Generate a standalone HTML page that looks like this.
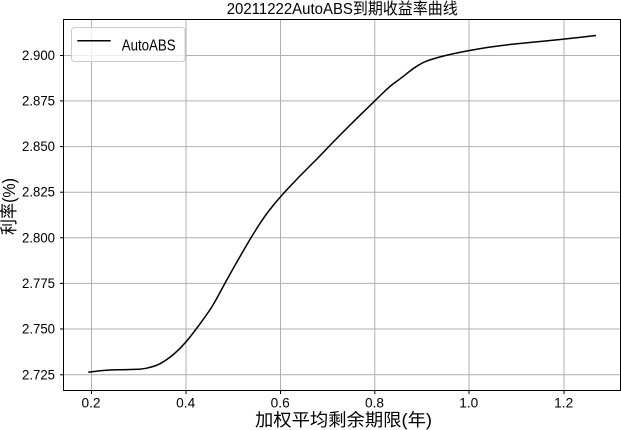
<!DOCTYPE html>
<html><head><meta charset="utf-8"><style>
html,body{margin:0;padding:0;background:#fff;}
svg{display:block;}
text{font-family:"Liberation Sans","Noto Sans CJK SC",sans-serif;fill:#000;}
</style></head><body>
<svg width="621" height="430" viewBox="0 0 621 430" xmlns="http://www.w3.org/2000/svg">
<rect x="0" y="0" width="621" height="430" fill="#fff"/>
<g stroke="#b0b0b0" stroke-width="1" fill="none">
<line x1="91.5" y1="19.5" x2="91.5" y2="390.5"/>
<line x1="186" y1="19.5" x2="186" y2="390.5"/>
<line x1="280.5" y1="19.5" x2="280.5" y2="390.5"/>
<line x1="374.8" y1="19.5" x2="374.8" y2="390.5"/>
<line x1="469" y1="19.5" x2="469" y2="390.5"/>
<line x1="564" y1="19.5" x2="564" y2="390.5"/>
<line x1="63.5" y1="55.5" x2="620.5" y2="55.5"/>
<line x1="63.5" y1="100.9" x2="620.5" y2="100.9"/>
<line x1="63.5" y1="146.6" x2="620.5" y2="146.6"/>
<line x1="63.5" y1="192.2" x2="620.5" y2="192.2"/>
<line x1="63.5" y1="237.8" x2="620.5" y2="237.8"/>
<line x1="63.5" y1="283.4" x2="620.5" y2="283.4"/>
<line x1="63.5" y1="329" x2="620.5" y2="329"/>
<line x1="63.5" y1="374.8" x2="620.5" y2="374.8"/>
</g>
<path fill="none" stroke="#000" stroke-width="1.5" stroke-linejoin="round" d="M88.3,372.3 L94.15,371.45 Q100,370.6 106.5,370.2 Q113,369.8 119,369.7 Q125,369.6 130,369.55 Q135,369.5 138.5,369.3 Q142,369.1 146,368.3 Q150,367.5 153.5,366.4 Q157,365.3 160.15,363.65 Q163.3,362 166.65,359.65 Q170,357.3 173.35,354.5 Q176.7,351.7 181.6,346.7 Q186.5,341.7 191.6,335 Q196.7,328.3 200.85,322.65 Q205,317 209.15,311 Q213.3,305 219.15,294 Q225,283 231.5,271.5 Q238,260 244.5,248.75 Q251,237.5 258,226.5 Q265,215.5 272.5,206.25 Q280,197 290,186.35 Q300,175.7 310,165.85 Q320,156 324.15,151.5 Q328.3,147 339.15,136 Q350,125 362,113.35 Q374,101.7 382,93.85 Q390,86 395,82.5 Q400,79 406.65,73.65 Q413.3,68.3 418.3,65.3 Q423.3,62.3 426.65,61.05 Q430,59.8 438.35,57.4 Q446.7,55 457.5,52.85 Q468.3,50.7 482.5,48.3 Q496.7,45.9 513.35,44.15 Q530,42.4 546.65,40.85 Q563.3,39.3 579.65,37.4 L596,35.5"/>
<rect x="63.5" y="19.5" width="557" height="371" fill="none" stroke="#000" stroke-width="1"/>
<g stroke="#000" stroke-width="1">
<line x1="91.5" y1="390.5" x2="91.5" y2="394"/>
<line x1="186" y1="390.5" x2="186" y2="394"/>
<line x1="280.5" y1="390.5" x2="280.5" y2="394"/>
<line x1="374.8" y1="390.5" x2="374.8" y2="394"/>
<line x1="469" y1="390.5" x2="469" y2="394"/>
<line x1="564" y1="390.5" x2="564" y2="394"/>
<line x1="60" y1="55.5" x2="63.5" y2="55.5"/>
<line x1="60" y1="100.9" x2="63.5" y2="100.9"/>
<line x1="60" y1="146.6" x2="63.5" y2="146.6"/>
<line x1="60" y1="192.2" x2="63.5" y2="192.2"/>
<line x1="60" y1="237.8" x2="63.5" y2="237.8"/>
<line x1="60" y1="283.4" x2="63.5" y2="283.4"/>
<line x1="60" y1="329" x2="63.5" y2="329"/>
<line x1="60" y1="374.8" x2="63.5" y2="374.8"/>
</g>
<g font-size="13.5" text-anchor="end">
<text x="55" y="60" textLength="33" lengthAdjust="spacingAndGlyphs">2.900</text>
<text x="55" y="105.4" textLength="33" lengthAdjust="spacingAndGlyphs">2.875</text>
<text x="55" y="151.1" textLength="33" lengthAdjust="spacingAndGlyphs">2.850</text>
<text x="55" y="196.7" textLength="33" lengthAdjust="spacingAndGlyphs">2.825</text>
<text x="55" y="242.3" textLength="33" lengthAdjust="spacingAndGlyphs">2.800</text>
<text x="55" y="287.9" textLength="33" lengthAdjust="spacingAndGlyphs">2.775</text>
<text x="55" y="333.5" textLength="33" lengthAdjust="spacingAndGlyphs">2.750</text>
<text x="55" y="379.3" textLength="33" lengthAdjust="spacingAndGlyphs">2.725</text>
</g>
<g font-size="13.5" text-anchor="middle">
<text x="91" y="407.5" textLength="19" lengthAdjust="spacingAndGlyphs">0.2</text>
<text x="185.7" y="407.5" textLength="19" lengthAdjust="spacingAndGlyphs">0.4</text>
<text x="280.2" y="407.5" textLength="19" lengthAdjust="spacingAndGlyphs">0.6</text>
<text x="374.5" y="407.5" textLength="19" lengthAdjust="spacingAndGlyphs">0.8</text>
<text x="468.8" y="407.5" textLength="19" lengthAdjust="spacingAndGlyphs">1.0</text>
<text x="563.7" y="407.5" textLength="19" lengthAdjust="spacingAndGlyphs">1.2</text>
</g>
<text x="226.7" y="14" font-size="16" textLength="231" lengthAdjust="spacingAndGlyphs">20211222AutoABS到期收益率曲线</text>
<text x="255" y="426" font-size="17.5" textLength="177" lengthAdjust="spacingAndGlyphs">加权平均剩余期限(年)</text>
<text transform="translate(15,206.5) rotate(-90)" font-size="17.5" text-anchor="middle" textLength="57" lengthAdjust="spacingAndGlyphs">利率(%)</text>
<rect x="71.5" y="27.5" width="113.5" height="34" rx="3" ry="3" fill="#fff" fill-opacity="0.8" stroke="#cccccc" stroke-width="1"/>
<line x1="77.3" y1="40.7" x2="110.7" y2="40.7" stroke="#000" stroke-width="1.5"/>
<text x="121.7" y="50.5" font-size="16" textLength="54" lengthAdjust="spacingAndGlyphs">AutoABS</text>
</svg>
</body></html>
